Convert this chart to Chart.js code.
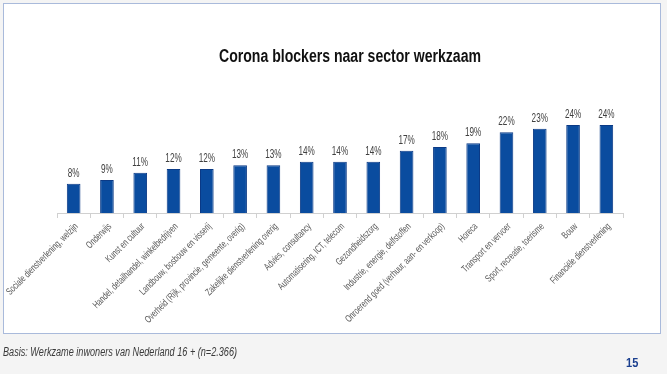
<!DOCTYPE html>
<html>
<head>
<meta charset="utf-8">
<script src="https://cdn.jsdelivr.net/npm/chart.js@4.4.0/dist/chart.umd.min.js"></script>
<style>
    html, body { margin: 0; padding: 0; }
    body {
        width: 667px;
        height: 374px;
        background: #f4f4f4;
        position: relative;
        overflow: hidden;
        font-family: "Liberation Sans", Arial, sans-serif;
    }
    #frame {
        position: absolute;
        left: 3px;
        top: 3px;
        width: 656px;
        height: 329px;
        background: #ffffff;
        border: 1.5px solid #a9badb;
    }
    #chart {
        position: absolute;
        left: 0;
        top: 0;
    }
    #basis {
        position: absolute;
        left: 3px;
        top: 345px;
        font-size: 12px;
        font-style: italic;
        color: #3a3a3a;
        white-space: nowrap;
        transform: scaleX(0.76);
        transform-origin: left center;
    }
    #page {
        position: absolute;
        left: 626px;
        top: 355px;
        font-size: 13px;
        font-weight: bold;
        color: #1b3f8f;
        transform: scaleX(0.85);
        transform-origin: left center;
    }
</style>
</head>
<body>
<div id="frame"></div>
<canvas id="chart" width="667" height="374"></canvas>
<div id="basis">Basis: Werkzame inwoners van Nederland 16 + (n=2.366)</div>
<div id="page">15</div>

<script>
const sectors = [
    "Sociale dienstverlening, welzijn",
    "Onderwijs",
    "Kunst en cultuur",
    "Handel, detailhandel, winkelbedrijven",
    "Landbouw, bosbouw en visserij",
    "Overheid (Rijk, provincie, gemeente, overig)",
    "Zakelijke dienstverlening overig",
    "Advies, consultancy",
    "Automatisering, ICT, telecom",
    "Gezondheidszorg",
    "Industrie, energie, delfstoffen",
    "Onroerend goed (verhuur, aan- en verkoop)",
    "Horeca",
    "Transport en vervoer",
    "Sport, recreatie, toerisme",
    "Bouw",
    "Financiële dienstverlening",
];

const blockerPct = [8, 9, 11, 12, 12, 13, 13, 14, 14, 14, 17, 18, 19, 22, 23, 24, 24];

const chartTitle = "Corona blockers naar sector werkzaam";

const FONT = '"Liberation Sans", Arial, sans-serif';

// the original uses a narrow font, so text is squeezed horizontally
const narrowText = {
    id: "narrowText",
    afterDraw(chart) {
        const ctx = chart.ctx;
        const xScale = chart.scales.x;
        const meta = chart.getDatasetMeta(0);
        const base = xScale.top;

        ctx.save();

        // title
        ctx.font = "bold 18px " + FONT;
        ctx.fillStyle = "#111111";
        ctx.textAlign = "center";
        ctx.textBaseline = "middle";
        const tw = ctx.measureText(chartTitle).width;
        ctx.save();
        ctx.translate(350, 57);
        ctx.scale(262 / tw, 1);
        ctx.fillText(chartTitle, 0, 0);
        ctx.restore();

        // value labels above the bars
        ctx.font = "12px " + FONT;
        ctx.fillStyle = "#404040";
        ctx.textBaseline = "alphabetic";
        meta.data.forEach((bar, i) => {
            ctx.save();
            ctx.translate(bar.x, bar.y - 7);
            ctx.scale(0.68, 1);
            ctx.fillText(blockerPct[i] + "%", 0, 0);
            ctx.restore();
        });

        // category labels, rotated 45 degrees
        ctx.font = "10px " + FONT;
        ctx.fillStyle = "#595959";
        ctx.textAlign = "right";
        ctx.textBaseline = "middle";
        const sx = 97 / ctx.measureText(sectors[0]).width;
        sectors.forEach((label, i) => {
            const x = xScale.getPixelForTick(i);
            ctx.save();
            ctx.translate(x + 3, base + 12);
            ctx.rotate(-Math.PI / 4);
            ctx.scale(sx, 1);
            ctx.fillText(label, 0, 0);
            ctx.restore();
        });

        ctx.restore();
    },
};

const ctx = document.getElementById("chart").getContext("2d");

new Chart(ctx, {
    type: "bar",
    data: {
        labels: sectors,
        datasets: [
            {
                data: blockerPct,
                backgroundColor: "#0a4c9f",
                borderColor: "#0b3a86",
                borderWidth: 1,
                categoryPercentage: 1,
                barPercentage: 0.41,
            },
        ],
    },
    options: {
        responsive: false,
        animation: false,
        layout: {
            padding: { left: 57, right: 44, top: 103, bottom: 0 },
        },
        plugins: {
            legend: { display: false },
            tooltip: { enabled: false },
            title: { display: false },
        },
        scales: {
            x: {
                grid: {
                    display: true,
                    offset: true,
                    drawOnChartArea: false,
                    drawTicks: true,
                    tickLength: 5,
                    color: "#d0d0d0",
                },
                border: { display: true, color: "#d0d0d0" },
                ticks: { display: false },
                afterFit(scale) {
                    scale.height = 374 - 213;
                    scale.paddingLeft = 0;
                    scale.paddingRight = 0;
                },
            },
            y: {
                display: false,
                min: 0,
                max: 30,
            },
        },
    },
    plugins: [narrowText],
});
</script>
</body>
</html>
